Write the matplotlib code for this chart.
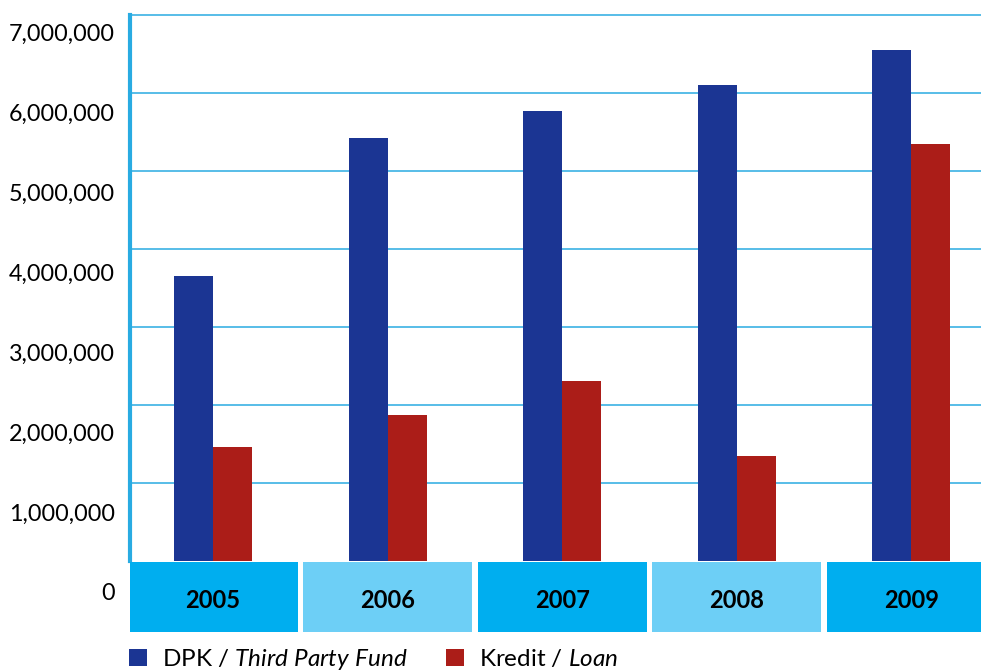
import matplotlib
matplotlib.use("Agg")
import matplotlib.pyplot as plt
from matplotlib.patches import Rectangle
import numpy as np

years = ["2005", "2006", "2007", "2008", "2009"]
dpk = [3655000, 5424000, 5771000, 6104000, 6553000]
kredit = [1463000, 1873000, 2309000, 1347000, 5347000]
yticks = [0, 1000000, 2000000, 3000000, 4000000, 5000000, 6000000, 7000000]
ytick_labels = ["0", "1,000,000", "2,000,000", "3,000,000", "4,000,000",
                "5,000,000", "6,000,000", "7,000,000"]
legend_labels = ["DPK / $\\it{Third\\ Party\\ Fund}$", "Kredit / $\\it{Loan}$"]

plt.rcParams['font.family'] = ['Lato', 'DejaVu Sans']
plt.rcParams['mathtext.fontset'] = 'custom'
plt.rcParams['mathtext.it'] = 'Lato:italic'
plt.rcParams['mathtext.rm'] = 'Lato'

W, H = 981, 671
fig = plt.figure(figsize=(W / 100, H / 100), dpi=100)

top_px, bot_px, left_px = 13.0, 632.0, 130.0
ax = fig.add_axes([left_px / W, 1 - bot_px / H, (W - left_px) / W, (bot_px - top_px) / H])

px_per_unit = 78.0 / 1e6
zero_px = 561.1
ymin = -(bot_px - zero_px) / px_per_unit
ymax = (zero_px - top_px) / px_per_unit
ax.set_ylim(ymin, ymax)

cat_px = 174.6
c0_px = 213.0
ax.set_xlim(-(c0_px - left_px) / cat_px, (W - c0_px) / cat_px)

x = np.arange(len(years))
bw = 39.0 / cat_px
blue = "#1b3593"
red = "#ab1d18"
grid_c = "#29abe2"

for v in yticks[1:]:
    ax.axhline(v, color=grid_c, lw=1.1, zorder=1)

b1 = ax.bar(x - bw / 2, dpk, width=bw, color=blue, zorder=3, label=legend_labels[0])
b2 = ax.bar(x + bw / 2, kredit, width=bw, color=red, zorder=3, label=legend_labels[1])

box_colors = ["#00aeef", "#6dcff6"]
for i, yr in enumerate(years):
    r = Rectangle((i - 0.484, ymin), 0.968, -ymin - 0.012e6, facecolor=box_colors[i % 2],
                  edgecolor='none', zorder=4)
    ax.add_patch(r)
    ax.text(i, ymin * 0.5 - 0.05e6, yr, ha='center', va='center', fontsize=17,
            fontweight='bold', color='black', zorder=5)

for s in ['top', 'right', 'bottom']:
    ax.spines[s].set_visible(False)
ax.spines['left'].set_color(grid_c)
ax.spines['left'].set_linewidth(3)
ax.spines['left'].set_bounds(0, 7e6)
ax.spines['left'].set_zorder(2)
ax.set_xticks([])
ax.set_yticks([])

# label axis (tick labels sit on a slightly different scale)
ax2 = ax.twinx()
lab_px = 80.0 / 1e6
lab_zero = 592.0
ax2.set_ylim(-(bot_px - lab_zero) / lab_px, (lab_zero - top_px) / lab_px)
ax2.yaxis.tick_left()
ax2.set_yticks(yticks)
ax2.set_yticklabels(ytick_labels, fontsize=16.8)
ax2.tick_params(axis='y', length=0, pad=11)
for s in ax2.spines.values():
    s.set_visible(False)
ax2.set_xticks([])

fig.legend(handles=[b1, b2], labels=legend_labels, loc='lower left',
           bbox_to_anchor=(129 / W, -1 / H), ncol=2, frameon=False, fontsize=17.5,
           handlelength=0.75, handleheight=0.75, handletextpad=0.6, columnspacing=1.6,
           borderpad=0.0, borderaxespad=0.0)

fig.savefig("out.png", dpi=100)
